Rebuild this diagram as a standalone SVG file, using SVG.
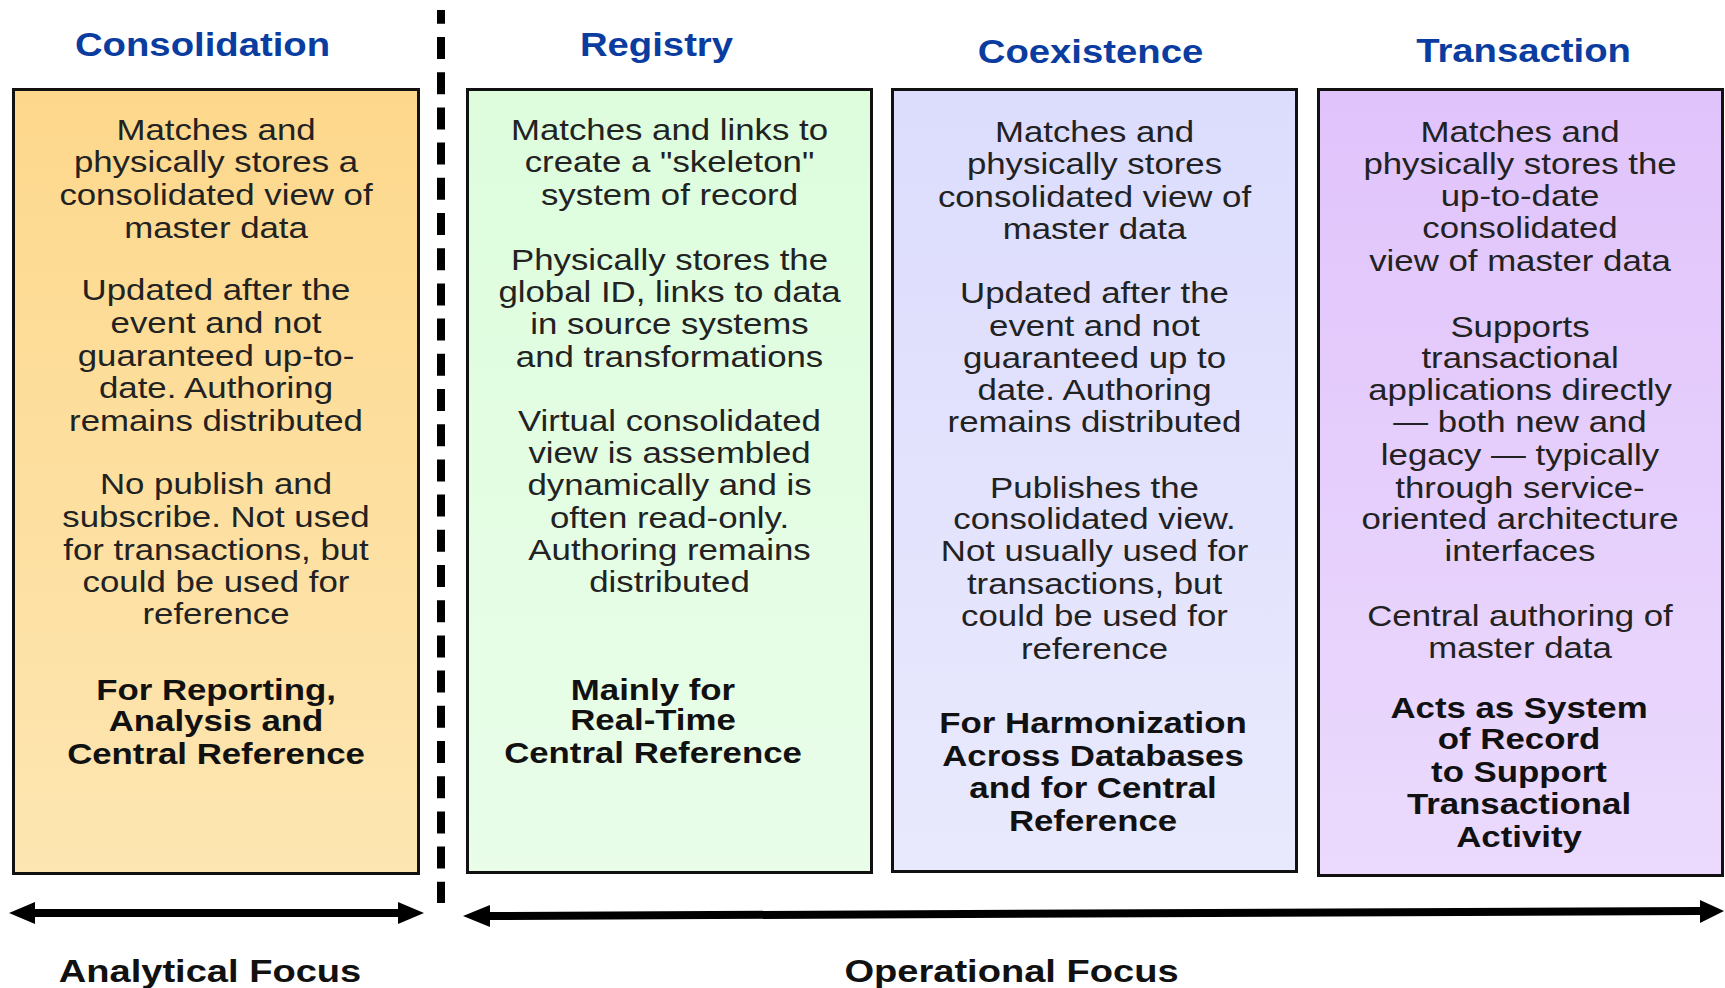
<svg xmlns="http://www.w3.org/2000/svg" width="1725" height="988" viewBox="0 0 1725 988">
<style>
.title{font-family:"Liberation Sans",Arial,sans-serif;font-weight:bold;font-size:33px;fill:#0b3c9f;text-anchor:middle}
.body{font-family:"Liberation Sans",Arial,sans-serif;font-size:29px;fill:#222;text-anchor:middle}
.bold{font-family:"Liberation Sans",Arial,sans-serif;font-weight:bold;font-size:29px;fill:#111;text-anchor:middle}
.focus{font-family:"Liberation Sans",Arial,sans-serif;font-weight:bold;font-size:32px;fill:#111;text-anchor:middle}
.box{stroke:#111;stroke-width:3}
.arrow{fill:#000}
</style>
<defs>
<linearGradient id="g1" x1="0" y1="0" x2="0" y2="1"><stop offset="0" stop-color="#fdd88c"/><stop offset="1" stop-color="#fde6b2"/></linearGradient>
<linearGradient id="g2" x1="0" y1="0" x2="0" y2="1"><stop offset="0" stop-color="#ddfddd"/><stop offset="1" stop-color="#e9fde9"/></linearGradient>
<linearGradient id="g3" x1="0" y1="0" x2="0" y2="1"><stop offset="0" stop-color="#dcdcfd"/><stop offset="1" stop-color="#e9e9fd"/></linearGradient>
<linearGradient id="g4" x1="0" y1="0" x2="0" y2="1"><stop offset="0" stop-color="#e0c3fb"/><stop offset="1" stop-color="#ebdafd"/></linearGradient>
</defs>
<rect width="1725" height="988" fill="#fff"/>

<line id="divider" x1="441" y1="10" x2="441" y2="903" stroke="#000" stroke-width="8" stroke-dasharray="22 13.2" stroke-dashoffset="8.2"/>

<g id="consolidation">
<rect class="box" x="13.5" y="89.5" width="405" height="784" fill="url(#g1)"/>
<g transform="translate(202.5,0) scale(1.16,1)"><text class="title" x="0" y="56">Consolidation</text></g>
<g transform="translate(216,0) scale(1.2,1)">
<text class="body"><tspan x="0" y="140">Matches and</tspan><tspan x="0" y="172">physically stores a</tspan><tspan x="0" y="205">consolidated view of</tspan><tspan x="0" y="238">master data</tspan></text>
<text class="body"><tspan x="0" y="300">Updated after the</tspan><tspan x="0" y="333">event and not</tspan><tspan x="0" y="366">guaranteed up-to-</tspan><tspan x="0" y="398">date. Authoring</tspan><tspan x="0" y="431">remains distributed</tspan></text>
<text class="body"><tspan x="0" y="494">No publish and</tspan><tspan x="0" y="527">subscribe. Not used</tspan><tspan x="0" y="560">for transactions, but</tspan><tspan x="0" y="592">could be used for</tspan><tspan x="0" y="624">reference</tspan></text>
<text class="bold"><tspan x="0" y="700">For Reporting,</tspan><tspan x="0" y="731">Analysis and</tspan><tspan x="0" y="764">Central Reference</tspan></text>
</g>
</g>

<g id="registry">
<rect class="box" x="467.5" y="89.5" width="404" height="783" fill="url(#g2)"/>
<g transform="translate(656.5,0) scale(1.16,1)"><text class="title" x="0" y="56">Registry</text></g>
<g transform="translate(669.5,0) scale(1.2,1)">
<text class="body"><tspan x="0" y="140">Matches and links to</tspan><tspan x="0" y="172">create a "skeleton"</tspan><tspan x="0" y="205">system of record</tspan></text>
<text class="body"><tspan x="0" y="270">Physically stores the</tspan><tspan x="0" y="302">global ID, links to data</tspan><tspan x="0" y="334">in source systems</tspan><tspan x="0" y="367">and transformations</tspan></text>
<text class="body"><tspan x="0" y="431">Virtual consolidated</tspan><tspan x="0" y="463">view is assembled</tspan><tspan x="0" y="495">dynamically and is</tspan><tspan x="0" y="528">often read-only.</tspan><tspan x="0" y="560">Authoring remains</tspan><tspan x="0" y="592">distributed</tspan></text>
</g>
<g transform="translate(653,0) scale(1.2,1)">
<text class="bold"><tspan x="0" y="700">Mainly for</tspan><tspan x="0" y="730">Real-Time</tspan><tspan x="0" y="763">Central Reference</tspan></text>
</g>
</g>

<g id="coexistence">
<rect class="box" x="892.5" y="89.5" width="404" height="782" fill="url(#g3)"/>
<g transform="translate(1090.5,0) scale(1.16,1)"><text class="title" x="0" y="63">Coexistence</text></g>
<g transform="translate(1094.5,0) scale(1.2,1)">
<text class="body"><tspan x="0" y="142">Matches and</tspan><tspan x="0" y="174">physically stores</tspan><tspan x="0" y="207">consolidated view of</tspan><tspan x="0" y="239">master data</tspan></text>
<text class="body"><tspan x="0" y="303">Updated after the</tspan><tspan x="0" y="336">event and not</tspan><tspan x="0" y="368">guaranteed up to</tspan><tspan x="0" y="400">date. Authoring</tspan><tspan x="0" y="432">remains distributed</tspan></text>
<text class="body"><tspan x="0" y="498">Publishes the</tspan><tspan x="0" y="529">consolidated view.</tspan><tspan x="0" y="561">Not usually used for</tspan><tspan x="0" y="594">transactions, but</tspan><tspan x="0" y="626">could be used for</tspan><tspan x="0" y="659">reference</tspan></text>
</g>
<g transform="translate(1093,0) scale(1.2,1)">
<text class="bold"><tspan x="0" y="733">For Harmonization</tspan><tspan x="0" y="766">Across Databases</tspan><tspan x="0" y="798">and for Central</tspan><tspan x="0" y="831">Reference</tspan></text>
</g>
</g>

<g id="transaction">
<rect class="box" x="1318.5" y="89.5" width="404" height="786" fill="url(#g4)"/>
<g transform="translate(1523.5,0) scale(1.16,1)"><text class="title" x="0" y="62">Transaction</text></g>
<g transform="translate(1520,0) scale(1.2,1)">
<text class="body"><tspan x="0" y="142">Matches and</tspan><tspan x="0" y="174">physically stores the</tspan><tspan x="0" y="206">up-to-date</tspan><tspan x="0" y="238">consolidated</tspan><tspan x="0" y="271">view of master data</tspan></text>
<text class="body"><tspan x="0" y="337">Supports</tspan><tspan x="0" y="368">transactional</tspan><tspan x="0" y="400">applications directly</tspan><tspan x="0" y="432">— both new and</tspan><tspan x="0" y="465">legacy — typically</tspan><tspan x="0" y="498">through service-</tspan><tspan x="0" y="529">oriented architecture</tspan><tspan x="0" y="561">interfaces</tspan></text>
<text class="body"><tspan x="0" y="626">Central authoring of</tspan><tspan x="0" y="658">master data</tspan></text>
</g>
<g transform="translate(1519,0) scale(1.2,1)">
<text class="bold"><tspan x="0" y="718">Acts as System</tspan><tspan x="0" y="749">of Record</tspan><tspan x="0" y="782">to Support</tspan><tspan x="0" y="814">Transactional</tspan><tspan x="0" y="847">Activity</tspan></text>
</g>
</g>

<g id="connectors">
<path class="arrow" d="M9,913 L35,902 L35,909 L398,909 L398,902 L424,913 L398,924 L398,917 L35,917 L35,924 Z"/>
<path class="arrow" d="M463,916 L490,905 L490,912 L1700,907 L1700,900 L1724,911 L1700,923 L1700,915 L490,920 L490,927 Z"/>
</g>

<g id="analytical-focus" transform="translate(210,0) scale(1.19,1)"><text class="focus" x="0" y="982">Analytical Focus</text></g>
<g id="operational-focus" transform="translate(1011.5,0) scale(1.19,1)"><text class="focus" x="0" y="982">Operational Focus</text></g>
</svg>
